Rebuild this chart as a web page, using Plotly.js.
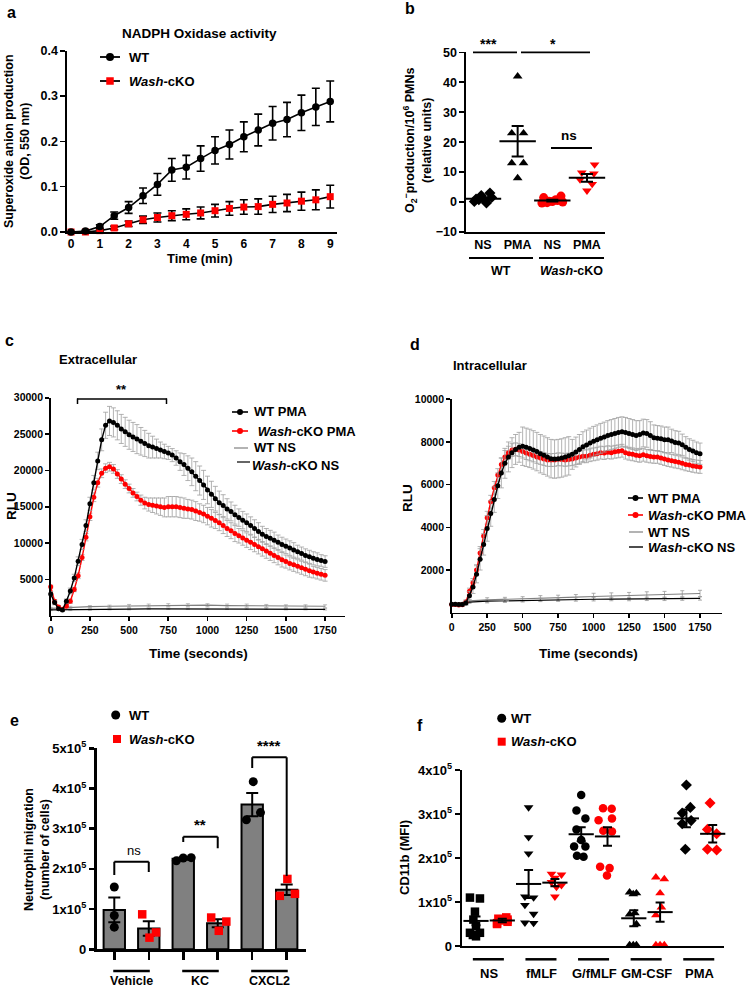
<!DOCTYPE html>
<html><head><meta charset="utf-8">
<script src="https://cdn.plot.ly/plotly-3.0.1.min.js"></script>
<style>body{margin:0;background:#fff}#chart{width:748px;height:989px}</style>
</head><body><div id="chart"></div>
<script>
// ================= DATA =================
// Panel a : NADPH oxidase activity (OD 550 nm)
const timeA=[0,0.5,1,1.5,2,2.5,3,3.5,4,4.5,5,5.5,6,6.5,7,7.5,8,8.5,9];
const wtA=[0,0.002,0.012,0.036,0.054,0.08,0.105,0.137,0.143,0.162,0.18,0.193,0.21,0.225,0.24,0.248,0.263,0.276,0.288];
const wtAerr=[0,0.002,0.004,0.008,0.013,0.017,0.024,0.025,0.026,0.028,0.03,0.032,0.033,0.035,0.037,0.038,0.039,0.041,0.045];
const koA=[0,0,0.003,0.009,0.018,0.027,0.032,0.036,0.039,0.042,0.047,0.052,0.055,0.056,0.061,0.064,0.068,0.071,0.078];
const koAerr=[0,0.001,0.002,0.004,0.006,0.008,0.01,0.011,0.012,0.013,0.014,0.015,0.016,0.017,0.018,0.019,0.02,0.022,0.025];

// Panel b : O2- production
const stimB=['NS','PMA','NS','PMA'];
const genoB=['WT','<i>Wash</i>-cKO'];
const wtNSb=[3.0,2.2,1.5,1.0,0.6,0.2,-0.3,0.8];
const wtPMAb=[42,23,23,13,13,8];
const koNSb=[2.0,1.5,0.8,0.3,0.0,-0.3,0.2,0.5,-0.2];
const koPMAb=[12.5,9.8,9.5,7.5,6.0,3.8];
const meanB=[1.1,20.3,0.5,8.1];
const semB=[0.4,5.1,0.3,1.3];

// Panels c,d : time (s)
const tRLU=[0,25,50,75,100,125,150,175,200,225,250,275,300,325,350,375,400,425,450,475,500,525,550,575,600,625,650,675,700,725,750,775,800,825,850,875,900,925,950,975,1000,1025,1050,1075,1100,1125,1150,1175,1200,1225,1250,1275,1300,1325,1350,1375,1400,1425,1450,1475,1500,1525,1550,1575,1600,1625,1650,1675,1700,1725,1750];
const tNS=[0,125,250,375,500,625,750,875,1000,1125,1250,1375,1500,1625,1750];
// Panel c : extracellular
const wtPMAc=[3000,1800,950,800,2000,3400,5200,7500,9800,12400,15400,18300,21300,24200,26200,26800,26600,26200,25700,25300,24900,24600,24300,24000,23700,23400,23200,23000,22800,22600,22400,22100,21700,21200,20800,20300,19800,19200,18600,18000,17300,16700,16100,15550,15150,14700,14350,13900,13500,13150,12800,12400,12000,11600,11200,10900,10650,10400,10100,9800,9550,9300,9050,8800,8550,8300,8100,7900,7750,7600,7450];
const wtPMAcErr=[300,300,200,200,300,400,500,600,700,800,900,1000,1200,1500,1800,2000,2000,2000,2000,2000,2000,2000,2000,1900,1800,1700,1500,1300,1100,1000,900,900,1000,1200,1500,1700,1900,2000,2000,2000,1900,1800,1700,1600,1500,1400,1300,1300,1200,1200,1200,1200,1200,1200,1100,1100,1100,1100,1000,1000,1000,1000,1000,900,900,900,900,900,900,800,800];
const koPMAc=[4000,2000,1200,900,1300,2000,3600,5500,8000,10800,13600,16300,18300,19600,20300,20500,20200,19500,18800,18100,17500,16900,16400,15900,15500,15300,15200,15100,15000,14900,15000,15000,15000,14900,14800,14700,14600,14400,14200,14000,13700,13400,13100,12800,12400,12000,11700,11300,11000,10700,10400,10100,9800,9500,9200,8900,8600,8300,8000,7700,7450,7200,7000,6800,6600,6400,6200,6000,5850,5700,5550];
const koPMAcErr=[200,200,200,200,200,300,300,400,400,500,500,600,600,600,600,600,600,600,600,600,600,600,600,700,800,900,1000,1100,1200,1300,1400,1400,1400,1400,1400,1300,1300,1300,1200,1200,1200,1200,1100,1100,1100,1100,1100,1100,1000,1000,1000,1000,1000,1000,1000,1000,1000,1000,1000,1000,900,900,900,900,900,900,900,800,800,800,800];
const wtNSc=[1000,1150,1250,1300,1350,1400,1450,1450,1450,1400,1400,1350,1300,1300,1300];
const wtNScErr=[150,150,150,150,200,200,200,200,200,200,200,200,200,200,200];
const koNSc=[800,800,850,900,900,950,950,950,950,950,950,950,900,900,880];
const koNScErr=[100,100,100,100,100,100,100,100,100,100,100,100,100,100,100];
// Panel d : intracellular
const wtPMAd=[400,400,380,380,450,800,1200,1800,2500,3200,3950,4650,5300,5950,6550,7000,7300,7500,7650,7750,7800,7750,7700,7630,7550,7450,7380,7300,7220,7200,7220,7250,7300,7350,7420,7530,7650,7780,7860,7950,8030,8100,8170,8230,8300,8350,8400,8450,8480,8450,8400,8350,8300,8350,8420,8400,8300,8200,8170,8150,8100,8100,8050,7980,7950,7870,7750,7650,7580,7500,7450];
const wtPMAdErr=[50,50,50,50,100,200,300,400,500,500,600,600,600,600,700,700,700,700,700,700,900,900,900,900,900,900,900,900,900,900,900,900,900,900,700,700,700,700,700,700,700,700,700,700,700,700,700,700,700,700,700,700,700,650,650,650,650,600,600,600,600,600,550,550,550,500,500,500,500,500,500];
const koPMAd=[380,380,360,370,500,1000,1400,2000,2800,3600,4450,5200,5850,6450,6950,7300,7500,7620,7660,7620,7550,7480,7420,7370,7300,7250,7200,7160,7150,7160,7190,7180,7160,7180,7200,7250,7300,7330,7330,7380,7420,7450,7500,7480,7520,7500,7540,7560,7590,7500,7450,7420,7380,7350,7400,7350,7320,7300,7300,7250,7200,7150,7120,7080,7050,7000,6950,6920,6880,6850,6830];
const koPMAdErr=[50,50,50,50,100,150,200,250,300,300,300,300,300,300,300,300,300,300,300,300,300,300,300,300,300,300,300,300,300,300,300,300,300,300,300,300,300,300,300,300,300,300,300,300,300,300,300,300,300,300,300,300,300,300,300,300,300,300,300,300,300,300,300,300,300,300,300,300,300,300,300];
const wtNSd=[380,550,600,620,650,680,700,730,760,780,800,830,850,880,900];
const wtNSdErr=[50,80,100,100,100,120,120,120,150,150,150,150,150,150,150];
const koNSd=[380,500,540,560,580,600,610,620,630,640,640,650,650,660,670];
const koNSdErr=[50,60,80,80,80,80,80,80,80,80,80,80,80,80,80];

// Panel e : neutrophil migration
const catE=['Vehicle','KC','CXCL2'];
const wtBarE=[98000,225000,360000];
const wtSemE=[31000,2500,29000];
const koBarE=[52000,65000,148000];
const koSemE=[18000,10000,13000];
const wtPtsE=[[155000,84000,55000],[220000,227000,228000],[417000,322000,340000]];
const koPtsE=[[87000,29000,42000],[79000,46000,69000],[175000,133000,138000]];

// Panel f : CD11b MFI
const catF=['NS','fMLF','G/fMLF','GM-CSF','PMA'];
const wtPtsF=[[110000,108000,78000,60000,45000,30000,30000,22000,25000],
 [315000,247000,210000,112000,110000,93000,73000,53000,52000],
 [343000,308000,290000,265000,241000,226000,226000,205000,203000],
 [122000,120000,118000,75000,72000,50000,2000,2000,2000],
 [366000,315000,302000,285000,278000,220000]];
const koPtsF=[[50000,55000,60000,62000,65000,58000,52000,60000],
 [164000,162000,155000,145000,138000,134000,112000],
 [313000,312000,286000,290000,262000,260000,180000,177000,160000],
 [156000,152000,120000,88000,70000,2000,2000,2000],
 [325000,265000,255000,220000,218000]];
const wtMeanF=[57000,141000,254000,63000,290000];
const wtSemF=[10000,32000,16000,18000,20000];
const koMeanF=[58000,144000,249000,77000,255000];
const koSemF=[4000,8000,21000,22000,20000];

// ================= STYLE / POSITIONS =================
const W=748,H=989;
const px=x=>x/W, py=y=>1-y/H;
const FONT='"Liberation Sans", Arial, Helvetica, sans-serif';
const RED='#ff0000';
// jitter offsets (in category units) for scatter dot plots
const jitB=[[0.2,-0.05,0.25,-0.2,0.05,-0.25,0.1,-0.12],[0,-0.17,0.17,-0.17,0.17,0],[0.25,-0.25,0.1,-0.1,0.3,-0.3,0,0.15,-0.15],[0.22,-0.15,0.2,-0.2,0.15,0]];
const jitE=[[0,0,0],[-0.19,0.02,0.21],[-0.2,0,0.23],[-0.19,0.03,0.25],[0.03,-0.17,0.24],[0.02,-0.2,0.24]];
const jitFw=[[-0.23,0.15,-0.04,-0.1,0,-0.23,0.15,0,-0.12],[0,0,0,-0.14,0.19,-0.14,0.19,-0.14,0.19],[0,-0.18,0.16,-0.18,0,0.16,-0.27,-0.16,0.09],[-0.16,0.1,-0.02,0.04,-0.16,0.1,-0.16,0.1,-0.02],[0,0.15,-0.16,0.18,-0.16,-0.04]];
const jitFk=[[-0.2,0.2,0,-0.15,0.15,0,-0.2,0.2],[-0.13,0.25,0,-0.13,0.25,0.06,0],[-0.17,0.16,-0.34,0.17,-0.16,0.17,-0.28,0.08,-0.02],[-0.16,0.16,0,0.05,-0.16,-0.16,0.16,0],[-0.1,-0.2,0.15,-0.2,0.15]];
const symF=['square','triangle-down','circle','triangle-up','diamond'];

function font(size,w){return {family:FONT,size:size,color:'#000',weight:w||'bold'};}
function xa(d0,d1,range,anchor,extra){return Object.assign({domain:[px(d0),px(d1)],range:range,anchor:anchor,showgrid:false,zeroline:false,showline:true,linecolor:'#000',linewidth:1.6,ticks:'outside',ticklen:5,tickwidth:1.6,tickcolor:'#000',tickfont:font(12),fixedrange:true},extra||{});}
function ya(top,bot,range,anchor,extra){return Object.assign({domain:[py(bot),py(top)],range:range,anchor:anchor,showgrid:false,zeroline:false,showline:true,linecolor:'#000',linewidth:1.6,ticks:'outside',ticklen:5,tickwidth:1.6,tickcolor:'#000',tickfont:font(12),fixedrange:true},extra||{});}
function ann(text,x,y,o){o=o||{};return {text:text,x:px(x),y:py(y),xref:'paper',yref:'paper',showarrow:false,xanchor:o.xa||'center',yanchor:'middle',textangle:o.rot||0,font:font(o.size||12.5,o.w)};}
function lineP(x0,y0,x1,y1,w,c){return {type:'line',xref:'paper',yref:'paper',x0:px(x0),y0:py(y0),x1:px(x1),y1:py(y1),line:{color:c||'#000',width:w||1.8}};}
function lineX(xr,x0,x1,y0,y1,w){return {type:'line',xref:xr,yref:'paper',x0:x0,x1:x1,y0:py(y0),y1:py(y1),line:{color:'#000',width:w||2}};}
function mk(cx,cy,type,color,s){return {type:type,xref:'paper',yref:'paper',xsizemode:'pixel',ysizemode:'pixel',xanchor:px(cx),yanchor:py(cy),x0:-s/2,x1:s/2,y0:-s/2,y1:s/2,fillcolor:color,line:{width:0}};}

const traces=[];
const shapes=[];
const anns=[];

// ---------- Panel a ----------
traces.push({type:'scatter',x:timeA,y:koA,xaxis:'x',yaxis:'y',mode:'lines+markers',line:{color:'#000',width:1.6},
  marker:{symbol:'square',size:7,color:RED},error_y:{type:'data',array:koAerr,color:'#000',thickness:1.6,width:4},cliponaxis:false});
traces.push({type:'scatter',x:timeA,y:wtA,xaxis:'x',yaxis:'y',mode:'lines+markers',line:{color:'#000',width:1.6},
  marker:{symbol:'circle',size:7.5,color:'#000'},error_y:{type:'data',array:wtAerr,color:'#000',thickness:1.6,width:4},cliponaxis:false});
anns.push(ann('a',5,12,{xa:'left',size:16}));
anns.push(ann('NADPH Oxidase activity',199,33,{size:13.5}));
shapes.push(lineP(100,57,120,57,1.8),mk(110,57,'circle','#000',8));
anns.push(ann('WT',127,57,{xa:'left',size:13}));
shapes.push(lineP(100,81,120,81,1.8),mk(110,81,'rect',RED,7.5));
anns.push(ann('<i>Wash</i>-cKO',127,81,{xa:'left',size:13}));
anns.push(ann('Superoxide anion production<br>(OD, 550 nm)',17,141,{rot:-90,size:12.5}));
anns.push(ann('Time (min)',200,258,{size:13}));

// ---------- Panel b ----------
const bSets=[wtNSb,wtPMAb,koNSb,koPMAb];
const bSym=['diamond','triangle-up','circle','triangle-down'];
const bCol=['#000','#000',RED,RED];
bSets.forEach(function(vals,i){
  traces.push({type:'scatter',xaxis:'x2',yaxis:'y2',mode:'markers',x:vals.map(function(v,j){return i+jitB[i][j];}),y:vals,
    marker:{symbol:bSym[i],size:i===2?9:8.5,color:bCol[i]},cliponaxis:false});
});
traces.push({type:'scatter',xaxis:'x2',yaxis:'y2',mode:'markers',x:[0,1,2,3],y:meanB,
  marker:{symbol:'line-ew',size:26,line:{width:2,color:'#000'}},error_y:{type:'data',array:semB,color:'#000',thickness:2,width:6},cliponaxis:false});
anns.push(ann('b',403,8,{xa:'left',size:16}));
anns.push(ann('O<sub>2</sub><sup>−</sup>production/10<sup>6</sup> PMNs<br>(relative units)',418,140,{rot:-90,size:12.5}));
shapes.push(lineP(473,52.3,517,52.3,1.8),lineP(521,52.3,590,52.3,1.8),lineP(551,148,592,148,1.8));
anns.push(ann('***',489,44,{size:14}));
anns.push(ann('*',553,44,{size:14}));
anns.push(ann('ns',569,135,{size:13.5}));
shapes.push(lineP(469,258,533,258,1.8),lineP(539,258,604,258,1.8));
anns.push(ann(genoB[0],501,271,{size:12.5}));
anns.push(ann(genoB[1],571,271,{size:12.5}));

// ---------- Panel c ----------
traces.push({type:'scatter',xaxis:'x3',yaxis:'y3',x:tNS,y:wtNSc,mode:'lines',line:{color:'#808080',width:1.2},error_y:{type:'data',array:wtNScErr,color:'#aaa',thickness:0.8,width:2}});
traces.push({type:'scatter',xaxis:'x3',yaxis:'y3',x:tNS,y:koNSc,mode:'lines',line:{color:'#000',width:1.2},error_y:{type:'data',array:koNScErr,color:'#aaa',thickness:0.8,width:2}});
traces.push({type:'scatter',xaxis:'x3',yaxis:'y3',x:tRLU,y:koPMAc,mode:'lines+markers',line:{color:RED,width:1.4},marker:{size:5,color:RED},error_y:{type:'data',array:koPMAcErr,color:'#a0a0a0',thickness:0.8,width:2.5},cliponaxis:false});
traces.push({type:'scatter',xaxis:'x3',yaxis:'y3',x:tRLU,y:wtPMAc,mode:'lines+markers',line:{color:'#000',width:1.4},marker:{size:5,color:'#000'},error_y:{type:'data',array:wtPMAcErr,color:'#a0a0a0',thickness:0.8,width:2.5},cliponaxis:false});
anns.push(ann('c',3,340,{xa:'left',size:16}));
anns.push(ann('Extracellular',57,359,{xa:'left',size:13}));
shapes.push(lineP(77,399,167,399,1.5),lineP(77.5,398.5,77.5,404,1.5),lineP(166.5,398.5,166.5,404,1.5));
anns.push(ann('**',121,389,{size:13}));
shapes.push(lineP(232,412,248,412,1.6),mk(240,412,'circle','#000',6));
anns.push(ann('WT PMA',252,412,{xa:'left',size:13}));
shapes.push(lineP(232,431,248,431,1.6,RED),mk(240,431,'circle',RED,6));
anns.push(ann(' <i>Wash</i>-cKO PMA',252,431,{xa:'left',size:13}));
shapes.push(lineP(234,448,248,448,1.2,'#808080'));
anns.push(ann('WT NS',252,448,{xa:'left',size:13}));
shapes.push(lineP(237,462,250,462,1.2));
anns.push(ann('<i>Wash</i>-cKO NS',250,465,{xa:'left',size:13}));
anns.push(ann('RLU',11,506,{rot:-90,size:13.5}));
anns.push(ann('Time (seconds)',198,653,{size:13.5}));

// ---------- Panel d ----------
traces.push({type:'scatter',xaxis:'x4',yaxis:'y4',x:tNS,y:wtNSd,mode:'lines',line:{color:'#808080',width:1.2},error_y:{type:'data',array:wtNSdErr,color:'#999',thickness:0.8,width:2}});
traces.push({type:'scatter',xaxis:'x4',yaxis:'y4',x:tNS,y:koNSd,mode:'lines',line:{color:'#000',width:1.2},error_y:{type:'data',array:koNSdErr,color:'#999',thickness:0.8,width:2}});
traces.push({type:'scatter',xaxis:'x4',yaxis:'y4',x:tRLU,y:koPMAd,mode:'lines+markers',line:{color:RED,width:1.4},marker:{size:5,color:RED},error_y:{type:'data',array:koPMAdErr,color:'#a0a0a0',thickness:0.8,width:2.5},cliponaxis:false});
traces.push({type:'scatter',xaxis:'x4',yaxis:'y4',x:tRLU,y:wtPMAd,mode:'lines+markers',line:{color:'#000',width:1.4},marker:{size:5,color:'#000'},error_y:{type:'data',array:wtPMAdErr,color:'#a0a0a0',thickness:0.8,width:2.5},cliponaxis:false});
anns.push(ann('d',408,345,{xa:'left',size:16}));
anns.push(ann('Intracellular',451,365,{xa:'left',size:13}));
shapes.push(lineP(628,498,643,498,1.6),mk(635.5,498,'circle','#000',6));
anns.push(ann('WT PMA',646,498,{xa:'left',size:13}));
shapes.push(lineP(628,515,643,515,1.6,RED),mk(635.5,515,'circle',RED,6));
anns.push(ann('<i>Wash</i>-cKO PMA',646,515,{xa:'left',size:13}));
shapes.push(lineP(629,532,643,532,1.2,'#808080'));
anns.push(ann('WT NS',646,532,{xa:'left',size:13}));
shapes.push(lineP(629,547,643,547,1.4));
anns.push(ann('<i>Wash</i>-cKO NS',646,547,{xa:'left',size:13}));
anns.push(ann('RLU',407,498,{rot:-90,size:13.5}));
anns.push(ann('Time (seconds)',588,653,{size:13.5}));

// ---------- Panel e ----------
traces.push({type:'bar',xaxis:'x5',yaxis:'y5',x:catE.map(function(c,g){return 2*g;}),y:wtBarE,width:0.62,
  marker:{color:'#808080',line:{color:'#000',width:2}},error_y:{type:'data',array:wtSemE,color:'#000',thickness:2,width:6}});
traces.push({type:'bar',xaxis:'x5',yaxis:'y5',x:catE.map(function(c,g){return 2*g+1;}),y:koBarE,width:0.62,
  marker:{color:'#808080',line:{color:'#000',width:2}},error_y:{type:'data',array:koSemE,color:'#000',thickness:2,width:6}});
const exW=[],eyW=[],exK=[],eyK=[];
catE.forEach(function(c,g){
  wtPtsE[g].forEach(function(v,j){exW.push(2*g+jitE[2*g][j]);eyW.push(v);});
  koPtsE[g].forEach(function(v,j){exK.push(2*g+1+jitE[2*g+1][j]);eyK.push(v);});
});
traces.push({type:'scatter',xaxis:'x5',yaxis:'y5',mode:'markers',x:exW,y:eyW,marker:{symbol:'circle',size:9,color:'#000'},cliponaxis:false});
traces.push({type:'scatter',xaxis:'x5',yaxis:'y5',mode:'markers',x:exK,y:eyK,marker:{symbol:'square',size:8.5,color:RED},cliponaxis:false});
anns.push(ann('e',8,720,{xa:'left',size:16}));
shapes.push(mk(115.7,715,'circle','#000',9));
anns.push(ann('WT',127,715,{xa:'left',size:13}));
shapes.push(mk(117,739,'rect',RED,8));
anns.push(ann('<i>Wash</i>-cKO',127,739,{xa:'left',size:13}));
anns.push(ann('Neutrophil migration<br>(number of cells)',37,850,{rot:-90,size:12.5}));
// brackets
shapes.push(lineX('x5',0,0,875,861.7),lineX('x5',0,1,861.7,861.7),lineX('x5',1,1,861.7,872));
shapes.push(lineX('x5',2,2,842,836.7),lineX('x5',2,3,836.7,836.7),lineX('x5',3,3,836.7,848.3));
shapes.push(lineX('x5',4,4,768,757.3),lineX('x5',4,5,757.3,757.3),lineX('x5',5,5,757.3,876));
anns.push(ann('ns',134,850,{size:13,w:'normal'}));
anns.push(ann('**',200,824,{size:15}));
anns.push(ann('****',269,745,{size:15}));
catE.forEach(function(c,g){
  shapes.push(lineX('x5',2*g-0.03,2*g+1.03,971,971,2.5));
  anns.push({text:c,x:2*g+0.5,y:py(980.5),xref:'x5',yref:'paper',showarrow:false,xanchor:'center',yanchor:'middle',font:font(12.5)});
});

// ---------- Panel f ----------
catF.forEach(function(c,g){
  traces.push({type:'scatter',xaxis:'x6',yaxis:'y6',mode:'markers',x:wtPtsF[g].map(function(v,j){return 2*g+jitFw[g][j];}),y:wtPtsF[g],
    marker:{symbol:symF[g],size:8.5,color:'#000'},cliponaxis:false});
  traces.push({type:'scatter',xaxis:'x6',yaxis:'y6',mode:'markers',x:koPtsF[g].map(function(v,j){return 2*g+1+jitFk[g][j];}),y:koPtsF[g],
    marker:{symbol:symF[g],size:8.5,color:RED},cliponaxis:false});
});
traces.push({type:'scatter',xaxis:'x6',yaxis:'y6',mode:'markers',x:catF.map(function(c,g){return 2*g;}),y:wtMeanF,
  marker:{symbol:'line-ew',size:18,line:{width:2,color:'#000'}},error_y:{type:'data',array:wtSemF,color:'#000',thickness:2,width:4.5},cliponaxis:false});
traces.push({type:'scatter',xaxis:'x6',yaxis:'y6',mode:'markers',x:catF.map(function(c,g){return 2*g+1;}),y:koMeanF,
  marker:{symbol:'line-ew',size:18,line:{width:2,color:'#000'}},error_y:{type:'data',array:koSemF,color:'#000',thickness:2,width:4.5},cliponaxis:false});
anns.push(ann('f',415,725,{xa:'left',size:16}));
shapes.push(mk(501.7,718.3,'circle','#000',9));
anns.push(ann('WT',509,718.3,{xa:'left',size:13}));
shapes.push(mk(501.7,741.7,'rect',RED,8));
anns.push(ann('<i>Wash</i>-cKO',509,741.7,{xa:'left',size:13}));
anns.push(ann('CD11b (MFI)',404,858,{rot:-90,size:13}));
catF.forEach(function(c,g){
  shapes.push(lineX('x6',2*g-0.12,2*g+1.06,959.3,959.3,2.5));
  anns.push({text:c,x:2*g+0.5,y:py(973.5),xref:'x6',yref:'paper',showarrow:false,xanchor:'center',yanchor:'middle',font:font(13)});
});

const sci=['0','1x10<sup>5</sup>','2x10<sup>5</sup>','3x10<sup>5</sup>','4x10<sup>5</sup>','5x10<sup>5</sup>'];
const layout={
  width:W,height:H,margin:{l:0,r:0,t:0,b:0},paper_bgcolor:'#fff',plot_bgcolor:'rgba(0,0,0,0)',
  showlegend:false,hovermode:false,barmode:'overlay',font:{family:FONT,color:'#000'},
  xaxis:xa(67,337,[-0.14,9.235],'y',{tickvals:timeA.filter(function(t){return t%1===0;}),ticklen:0,tickfont:font(12)}),
  yaxis:ya(50.7,232,[0,0.4],'x',{tickvals:[0,0.1,0.2,0.3,0.4],ticktext:['0.0','0.1','0.2','0.3','0.4'],tickfont:font(12.5)}),
  xaxis2:xa(466,605,[-0.49,3.52],'y2',{tickvals:[0,1,2,3],ticktext:stimB,ticklen:0,tickfont:font(12.5)}),
  yaxis2:ya(52.3,232,[-10,50],'x2',{tickvals:[-10,0,10,20,30,40,50],tickfont:font(12.5)}),
  xaxis3:xa(50.7,345,[0,1877],'y3',{tickvals:[0,250,500,750,1000,1250,1500,1750],tickformat:'d',tickfont:font(10.5),ticklen:4}),
  yaxis3:ya(397.7,615.7,[0,30000],'x3',{tickvals:[5000,10000,15000,20000,25000,30000],tickformat:'d',tickfont:font(10.5),ticklen:4}),
  xaxis4:xa(451.7,722,[0,1905],'y4',{tickvals:[0,250,500,750,1000,1250,1500,1750],tickformat:'d',tickfont:font(10.5),ticklen:4}),
  yaxis4:ya(399.3,612.7,[0,10000],'x4',{tickvals:[2000,4000,6000,8000,10000],tickformat:'d',tickfont:font(10.5),ticklen:4}),
  xaxis5:xa(96.7,306,[-0.51,5.56],'y5',{tickvals:[0,1,2,3,4,5],showticklabels:false,ticklen:8,tickwidth:2.5,linewidth:2.8}),
  yaxis5:ya(748.3,949.3,[0,500000],'x5',{tickvals:[0,100000,200000,300000,400000,500000],ticktext:sci,tickfont:font(13),ticklen:5,tickwidth:2.5,linewidth:2.8}),
  xaxis6:xa(461.7,724,[-0.544,9.43],'y6',{tickvals:[],showticklabels:false,linewidth:2}),
  yaxis6:ya(770,946,[0,400000],'x6',{tickvals:[0,100000,200000,300000,400000],ticktext:sci.slice(0,5),tickfont:font(13),linewidth:2,tickwidth:2}),
  shapes:shapes,annotations:anns
};
Plotly.newPlot('chart',traces,layout,{staticPlot:true,displayModeBar:false});
</script>
</body></html>
